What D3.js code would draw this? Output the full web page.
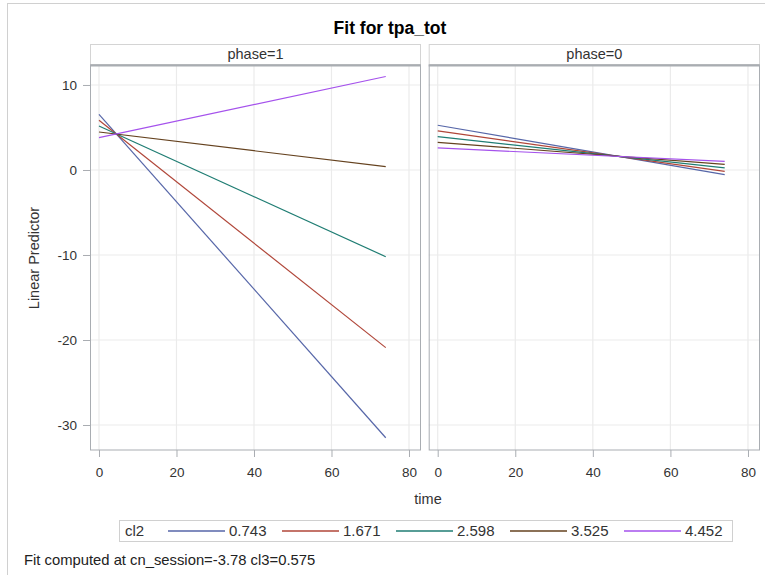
<!DOCTYPE html>
<html><head><meta charset="utf-8">
<script src="https://cdn.jsdelivr.net/npm/d3@7"></script>
<style>body{margin:0;background:#fff}text{font-family:"Liberation Sans",Arial,sans-serif}</style>
</head><body>
<svg id="c" width="765" height="575"></svg>
<script>
const title = "Fit for tpa_tot";
const panels = ["phase=1", "phase=0"];
const cl2Levels = ["0.743", "1.671", "2.598", "3.525", "4.452"];
const colors = ["#5666a8", "#b04639", "#1f7d73", "#65421f", "#a552ec"];
const timeRange = [0, 74];
// predicted values at time=0 and time=74 for each cl2 level
const phase1Start = [6.55, 5.85, 5.18, 4.47, 3.80];
const phase1End = [-31.5, -20.9, -10.2, 0.39, 11.0];
const phase0Start = [5.26, 4.59, 3.92, 3.25, 2.59];
const phase0End = [-0.55, -0.16, 0.24, 0.66, 1.02];
const xTicks = [0, 20, 40, 60, 80];
const yTicks = [10, 0, -10, -20, -30];
const footnote = "Fit computed at cn_session=-3.78 cl3=0.575";

const FONT = "Liberation Sans, Arial, sans-serif";
const svg = d3.select("#c");
svg.append("rect").attr("x",7.5).attr("y",3.5).attr("width",770).attr("height",600)
  .attr("fill","none").attr("stroke","#d0d0d0");

svg.append("text").attr("x",390).attr("y",33.5).attr("text-anchor","middle")
  .attr("font-size",17.5).attr("font-weight","bold").attr("fill","#000").text(title);

const y = d3.scaleLinear().domain([-32.94, 12.35]).range([450, 65]);
const panelX = [[90, 421], [428.7, 760]];
const data = [[phase1Start, phase1End], [phase0Start, phase0End]];

panels.forEach((p, pi) => {
  const [x0, x1] = panelX[pi];
  const x = d3.scaleLinear().domain([-2.32, 83.1]).range([x0, x1]);
  const g = svg.append("g");
  g.append("rect").attr("x",x0+0.5).attr("y",44.5).attr("width",x1-x0-1).attr("height",20)
    .attr("fill","#fff").attr("stroke","#d4d4d4");
  g.append("text").attr("x",(x0+x1)/2).attr("y",59).attr("text-anchor","middle")
    .attr("font-size",14.5).attr("fill","#333").text(p);
  g.selectAll(".gx").data(xTicks).join("line")
    .attr("x1",d=>x(d)).attr("x2",d=>x(d)).attr("y1",65).attr("y2",450)
    .attr("stroke","#ebebeb").attr("stroke-width",1.2);
  g.selectAll(".gy").data(yTicks).join("line")
    .attr("x1",x0).attr("x2",x1).attr("y1",d=>y(d)).attr("y2",d=>y(d))
    .attr("stroke","#ebebeb").attr("stroke-width",1.2);
  const [s, e] = data[pi];
  cl2Levels.forEach((c, i) => {
    g.append("line").attr("x1",x(timeRange[0])).attr("y1",y(s[i]))
      .attr("x2",x(timeRange[1])).attr("y2",y(e[i]))
      .attr("stroke",colors[i]).attr("stroke-width",1.2);
  });
  g.append("rect").attr("x",x0+0.5).attr("y",65).attr("width",x1-x0-1).attr("height",385)
    .attr("fill","none").attr("stroke","#a9adb2");
  g.append("line").attr("x1",x0).attr("x2",x1).attr("y1",65.5).attr("y2",65.5)
    .attr("stroke","#a9adb2").attr("stroke-width",2);
  const xa = g.append("g").attr("transform","translate(0,450)")
    .call(d3.axisBottom(x).tickValues(xTicks).tickFormat(d=>String(d)).tickSize(7).tickPadding(10));
  xa.select(".domain").remove();
  xa.selectAll("line").attr("stroke","#a9adb2");
  xa.selectAll("text").attr("font-size",13.5).attr("fill","#333").attr("font-family",FONT);
  if (pi === 0) {
    const ya = g.append("g").attr("transform",`translate(${x0},0)`)
      .call(d3.axisLeft(y).tickValues(yTicks).tickFormat(d=>String(d)).tickSize(7).tickPadding(6));
    ya.select(".domain").remove();
    ya.selectAll("line").attr("stroke","#a9adb2");
    ya.selectAll("text").attr("font-size",13.5).attr("fill","#333").attr("font-family",FONT);
  }
});

svg.append("text").attr("transform","translate(39,258) rotate(-90)").attr("text-anchor","middle")
  .attr("font-size",14.5).attr("fill","#333").text("Linear Predictor");
svg.append("text").attr("x",428).attr("y",504).attr("text-anchor","middle")
  .attr("font-size",14.5).attr("fill","#333").text("time");

const lg = svg.append("g");
lg.append("rect").attr("x",119.5).attr("y",520.5).attr("width",613).attr("height",21)
  .attr("fill","#fff").attr("stroke","#d0d0d0");
lg.append("text").attr("x",125).attr("y",536).attr("font-size",15).attr("fill","#333").text("cl2");
const legX = [168, 282, 396, 510, 624];
cl2Levels.forEach((c, i) => {
  lg.append("line").attr("x1",legX[i]).attr("x2",legX[i]+57).attr("y1",531).attr("y2",531)
    .attr("stroke",colors[i]).attr("stroke-width",1.6);
  lg.append("text").attr("x",legX[i]+61).attr("y",536).attr("font-size",15).attr("fill","#333").text(c);
});

svg.append("text").attr("x",24).attr("y",565).attr("font-size",14.8).attr("fill","#222").text(footnote);
</script>
</body></html>
